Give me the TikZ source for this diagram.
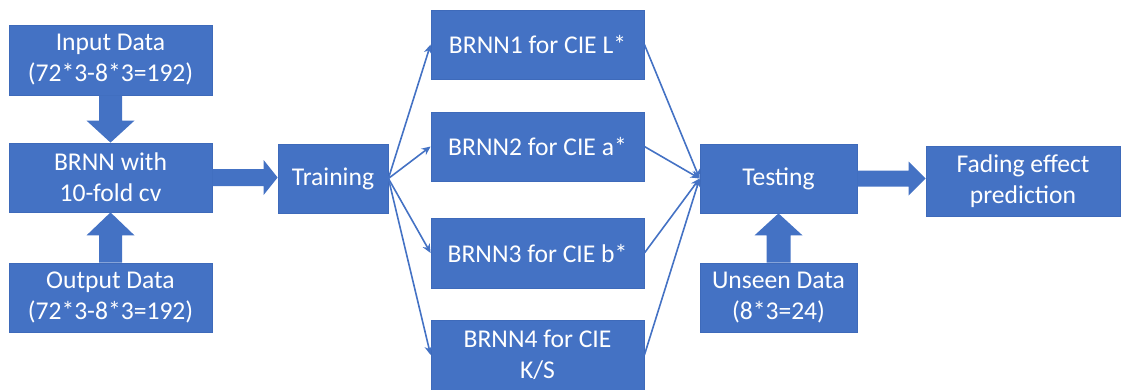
\documentclass[tikz,border=0pt]{standalone}
\usepackage{fontspec}
\setmainfont{Carlito}
\usetikzlibrary{calc,arrows.meta}

\definecolor{boxblue}{HTML}{4472C4}
\definecolor{boxedge}{HTML}{3E6ABA}

\tikzset{
  blockbox/.style={fill=boxblue, draw=boxedge, line width=0.8pt, text=white,
    align=center, inner sep=0pt, font=\fontsize{25.6}{31}\selectfont},
  thinlink/.style={draw=boxblue, line width=1.6pt,
    -{Stealth[length=9pt,width=8pt]}},
  fatfill/.style={fill=boxblue},
}

% block arrow from #1 to tip #2: shaft half-width #3, head half-width #4, head length #5
\newcommand\fatarrow[5]{%
  \coordinate (fa-h) at ($(#2)!#5!(#1)$);
  \fill[fatfill] ($(#1)!#3!90:(#2)$) -- ($(fa-h)!#3!90:(#2)$)
    -- ($(fa-h)!#4!90:(#2)$) -- (#2) -- ($(fa-h)!#4!-90:(#2)$)
    -- ($(fa-h)!#3!-90:(#2)$) -- ($(#1)!#3!-90:(#2)$) -- cycle;
}

\begin{document}
\begin{tikzpicture}[x=1pt,y=1pt]
\useasboundingbox (0,0) rectangle (1123,389);

% data preparation column
\node[blockbox, minimum width=203pt, minimum height=70pt] (in) at (110.5,329)
  {Input Data\\(72*3-8*3=192)};
\node[blockbox, minimum width=203pt, minimum height=69pt] (brnn) at (110.5,211.5)
  {BRNN with\\10-fold cv};
\node[blockbox, minimum width=203pt, minimum height=69pt] (out) at (110.5,91.5)
  {Output Data\\(72*3-8*3=192)};

\node[blockbox, minimum width=110pt, minimum height=69pt] (train) at (333,210.5)
  {Training};

% one network per colour coordinate
\node[blockbox, minimum width=213pt, minimum height=69pt] (b1) at (537.5,344.5)
  {BRNN1 for CIE L*};
\node[blockbox, minimum width=213pt, minimum height=69pt] (b2) at (537.5,242.5)
  {BRNN2 for CIE a*};
\node[blockbox, minimum width=213pt, minimum height=70pt] (b3) at (537.5,136)
  {BRNN3 for CIE b*};
\node[blockbox, minimum width=213pt, minimum height=70pt] (b4) at (537.5,34)
  {BRNN4 for CIE\\K/S};

\node[blockbox, minimum width=157pt, minimum height=69pt] (test) at (778.5,210.5)
  {Testing};
\node[blockbox, minimum width=157pt, minimum height=69pt] (unseen) at (778.5,91.5)
  {Unseen Data\\(8*3=24)};
\node[blockbox, minimum width=194pt, minimum height=70pt] (fade) at (1023,208)
  {Fading effect\\prediction};

% block arrows
\coordinate (trainin) at (brnn.east -| train.west);
\coordinate (fadein) at (test.east -| fade.west);
\fatarrow{in.south}{brnn.north}{11.5pt}{24pt}{22pt}
\fatarrow{out.north}{brnn.south}{11.5pt}{24pt}{23pt}
\fatarrow{brnn.east}{trainin}{8.5pt}{17.5pt}{14pt}
\fatarrow{unseen.north}{test.south}{12pt}{24pt}{22pt}
\fatarrow{test.east}{fadein}{8pt}{17pt}{17pt}

% fan-out and fan-in links
\foreach \b in {b1,b2,b3,b4} {
  \draw[thinlink] (train.east) -- (\b.west);
  \draw[thinlink] (\b.east) -- (test.west);
}
\end{tikzpicture}
\end{document}
